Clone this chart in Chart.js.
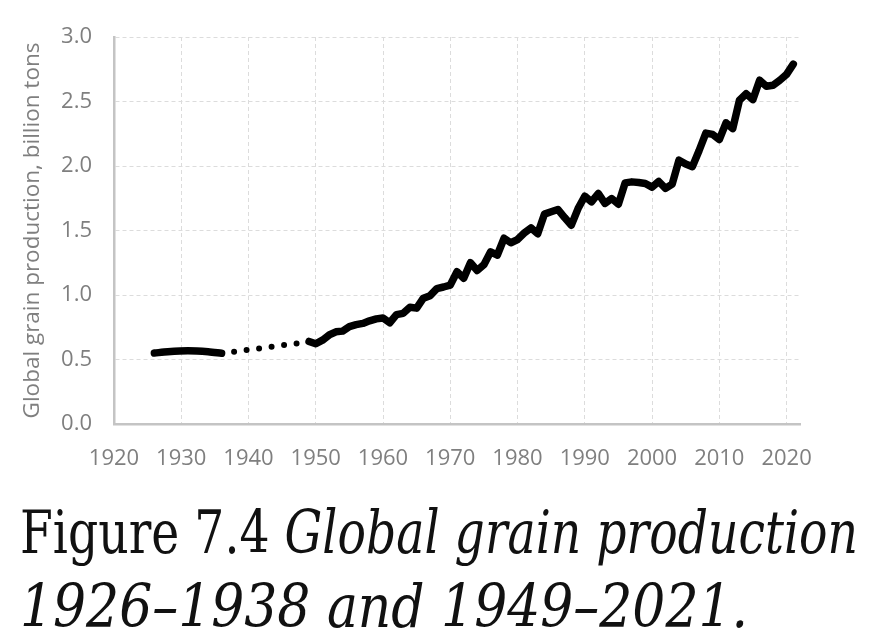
<!DOCTYPE html>
<html>
<head>
<meta charset="utf-8">
<script src="https://cdn.jsdelivr.net/npm/chart.js@4"></script>
<style>
  html, body { margin: 0; padding: 0; background: #fff; }
  #wrap { position: relative; width: 880px; height: 644px; overflow: hidden; }
  #chartBox { position: absolute; left: 0; top: 0; width: 880px; height: 480px; }
  .cap { position: absolute; left: 20px; white-space: nowrap; font-family: "DejaVu Serif", "Liberation Serif", serif;
         color: #111; line-height: 1; font-size: 60px; transform-origin: 0 0; }
  .cap i { font-style: italic; }
</style>
</head>
<body>
<div id="wrap">
  <div id="chartBox"><canvas id="c"></canvas></div>
  <div class="cap" id="cap1">Figure 7.4 <i>Global grain production</i></div>
  <div class="cap" id="cap2"><i>1926–1938 and 1949–2021.</i></div>
</div>
<script>
// ---- data ----
const prewarYears  = [1926, 1928, 1931, 1934, 1936];
const prewarValues = [0.55, 0.56, 0.567, 0.56, 0.548];

const gapYears  = [1936, 1949];
const gapValues = [0.548, 0.637];

const postwarYears = [
  1949,1950,1951,1952,1953,1954,1955,1956,1957,1958,1959,
  1960,1961,1962,1963,1964,1965,1966,1967,1968,1969,
  1970,1971,1972,1973,1974,1975,1976,1977,1978,1979,
  1980,1981,1982,1983,1984,1985,1986,1987,1988,1989,
  1990,1991,1992,1993,1994,1995,1996,1997,1998,1999,
  2000,2001,2002,2003,2004,2005,2006,2007,2008,2009,
  2010,2011,2012,2013,2014,2015,2016,2017,2018,2019,
  2020,2021
];
const postwarValues = [
  0.64,0.622,0.65,0.69,0.715,0.72,0.755,0.77,0.78,0.80,0.815,
  0.822,0.785,0.848,0.858,0.905,0.898,0.975,0.995,1.05,1.062,
  1.077,1.18,1.13,1.25,1.19,1.235,1.335,1.31,1.44,1.405,
  1.43,1.48,1.52,1.475,1.627,1.645,1.663,1.60,1.541,1.67,
  1.766,1.722,1.787,1.71,1.748,1.704,1.869,1.877,1.872,1.864,
  1.836,1.88,1.826,1.86,2.045,2.015,1.995,2.12,2.255,2.245,
  2.205,2.335,2.29,2.51,2.56,2.515,2.665,2.618,2.626,2.665,
  2.71,2.79
];

const xMin = 1920, xMax = 2022, xStep = 10;
const yMin = 0, yMax = 3, yStep = 0.5;
const yTitle = "Global grain production, billion tons";

const pts = (xs, ys) => xs.map((x, i) => ({ x: x, y: ys[i] }));

const tickColor = "#7f7f7f";
const gridColor = "#dcdcdc";
const axisColor = "#c4c4c4";

new Chart(document.getElementById("c"), {
  type: "line",
  data: {
    datasets: [
      { data: pts(prewarYears, prewarValues), borderColor: "#000", borderWidth: 7.5,
        borderCapStyle: "round", borderJoinStyle: "round", pointRadius: 0, tension: 0.3 },
      { data: pts(gapYears, gapValues), borderColor: "#000", borderWidth: 6,
        borderDash: [0, 12.6], borderCapStyle: "round", pointRadius: 0 },
      { data: pts(postwarYears, postwarValues), borderColor: "#000", borderWidth: 7.5,
        borderCapStyle: "round", borderJoinStyle: "round", pointRadius: 0 }
    ]
  },
  options: {
    responsive: true,
    maintainAspectRatio: false,
    animation: false,
    layout: { padding: { left: 0, top: 37, right: 80, bottom: 0 } },
    plugins: { legend: { display: false }, tooltip: { enabled: false } },
    scales: {
      x: {
        type: "linear", min: xMin, max: xMax,
        afterBuildTicks: a => { a.ticks = a.ticks.filter(t => t.value % xStep === 0); },
        afterFit: s => { s.height = 56; },
        ticks: { stepSize: xStep, includeBounds: false, autoSkip: false, color: tickColor, padding: 22,
                 font: { family: "Open Sans", size: 22 }, callback: v => String(v), maxRotation: 0 },
        grid: { color: gridColor, lineWidth: 1, drawTicks: false },
        border: { display: true, color: axisColor, width: 2.5, dash: [4, 3] }
      },
      y: {
        min: yMin, max: yMax,
        afterFit: s => { s.width = 114; },
        ticks: { stepSize: yStep, color: tickColor, padding: 22,
                 font: { family: "Open Sans", size: 22 }, callback: v => v.toFixed(1) },
        grid: { color: gridColor, lineWidth: 1, drawTicks: false },
        border: { display: true, color: axisColor, width: 2.5, dash: [4, 3] },
        title: { display: true, text: yTitle, color: tickColor,
                 font: { family: "Open Sans", size: 22.5 }, padding: { top: 19, bottom: 0 } }
      }
    }
  }
});

// caption: squeeze each line horizontally to its width in the reference
(function () {
  const fit = (id, targetW, top) => {
    const el = document.getElementById(id);
    const w = el.getBoundingClientRect().width;
    el.style.transform = "scaleX(" + (targetW / w) + ")";
    el.style.top = top + "px";
  };
  fit("cap1", 838, 502);
  fit("cap2", 728, 576);
})();
</script>
</body>
</html>
